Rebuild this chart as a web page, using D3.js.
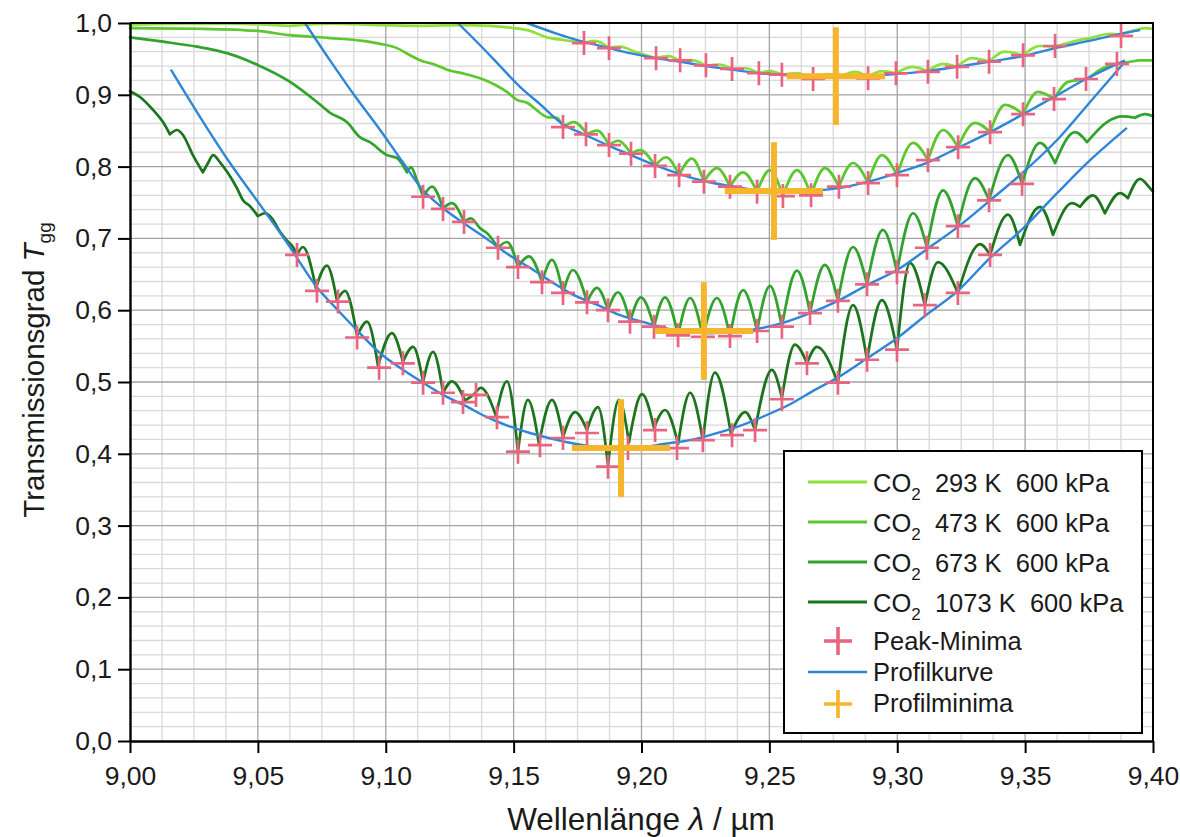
<!DOCTYPE html>
<html>
<head>
<meta charset="utf-8">
<script src="https://cdn.jsdelivr.net/npm/d3@7"></script>
<style>
  body { margin: 0; background: #fff; }
  svg { display: block; }
  text { font-family: "Liberation Sans", Arial, sans-serif; fill: #1a1a1a; }
</style>
</head>
<body>
<svg id="chart" width="1180" height="837"></svg>
<script>
// ---- axis ticks ----------------------------------------------------------
const xMajorTicks = [9.00, 9.05, 9.10, 9.15, 9.20, 9.25, 9.30, 9.35, 9.40];
const yMajorTicks = [0.0, 0.1, 0.2, 0.3, 0.4, 0.5, 0.6, 0.7, 0.8, 0.9, 1.0];
const xMinorStep = 0.0125;
const yMinorStep = 0.02;

// ---- measured transmission spectra  [wavelength (µm), T_gg] --------------
const co2_293 = [
  [9.0000,.997],[9.0196,.999],[9.0391,.999],[9.0626,.996],[9.0782,.999],[9.0978,.997],
  [9.1134,.996],[9.1290,.997],[9.1408,.996],[9.1498,.993],[9.1564,.989],[9.1630,.980],
  [9.1701,.976],[9.1775,.972],[9.1818,.975],[9.1873,.965],[9.1916,.967],[9.1975,.960],
  [9.2057,.951],[9.2104,.954],[9.2151,.947],[9.2201,.948],[9.2252,.940],[9.2303,.942],
  [9.2354,.936],[9.2405,.937],[9.2459,.930],[9.2502,.933],[9.2549,.928],[9.2608,.930],
  [9.2671,.923],[9.2729,.929],[9.2776,.925],[9.2835,.932],[9.2886,.925],[9.2940,.933],
  [9.2995,.930],[9.3058,.939],[9.3120,.933],[9.3179,.943],[9.3234,.939],[9.3292,.951],
  [9.3359,.946],[9.3421,.960],[9.3492,.955],[9.3558,.968],[9.3617,.967],[9.3695,.975],
  [9.3754,.979],[9.3832,.985],[9.3875,.984],[9.3930,.990],[9.3969,.993],[9.4000,.992]
];
const co2_473 = [
  [9.0000,.993],[9.0274,.992],[9.0497,.989],[9.0626,.983],[9.0782,.979],[9.0911,.975],
  [9.0978,.971],[9.1044,.965],[9.1095,.955],[9.1134,.948],[9.1193,.942],[9.1239,.935],
  [9.1310,.929],[9.1369,.923],[9.1427,.914],[9.1474,.904],[9.1513,.893],[9.1552,.889],
  [9.1603,.875],[9.1630,.869],[9.1670,.868],[9.1693,.855],[9.1736,.862],[9.1787,.845],
  [9.1826,.850],[9.1873,.830],[9.1908,.836],[9.1959,.818],[9.1994,.823],[9.2053,.801],
  [9.2096,.813],[9.2147,.788],[9.2197,.811],[9.2244,.779],[9.2295,.798],[9.2346,.772],
  [9.2397,.792],[9.2452,.765],[9.2502,.795],[9.2553,.759],[9.2608,.795],[9.2663,.760],
  [9.2717,.798],[9.2772,.772],[9.2827,.805],[9.2886,.777],[9.2940,.816],[9.2999,.788],
  [9.3062,.833],[9.3120,.809],[9.3179,.851],[9.3237,.827],[9.3304,.861],[9.3363,.848],
  [9.3421,.886],[9.3492,.873],[9.3550,.904],[9.3613,.894],[9.3668,.918],[9.3738,.922],
  [9.3793,.935],[9.3859,.943],[9.3910,.946],[9.3949,.948],[9.4000,.948]
];
const co2_673 = [
  [9.0000,.980],[9.0129,.974],[9.0262,.967],[9.0379,.958],[9.0497,.942],[9.0626,.918],
  [9.0731,.890],[9.0782,.875],[9.0848,.862],[9.0899,.841],[9.0938,.834],[9.1005,.816],
  [9.1044,.812],[9.1083,.792],[9.1099,.799],[9.1122,.781],[9.1146,.758],[9.1181,.772],
  [9.1224,.742],[9.1259,.749],[9.1306,.723],[9.1333,.728],[9.1369,.714],[9.1400,.706],
  [9.1439,.687],[9.1474,.695],[9.1517,.660],[9.1560,.675],[9.1611,.639],[9.1650,.670],
  [9.1693,.624],[9.1732,.656],[9.1787,.611],[9.1826,.631],[9.1869,.600],[9.1908,.625],
  [9.1955,.584],[9.1998,.618],[9.2049,.577],[9.2092,.618],[9.2143,.565],[9.2190,.617],
  [9.2240,.563],[9.2295,.617],[9.2346,.564],[9.2397,.628],[9.2452,.571],[9.2502,.634],
  [9.2549,.577],[9.2608,.655],[9.2659,.596],[9.2717,.663],[9.2768,.613],[9.2827,.688],
  [9.2882,.636],[9.2944,.712],[9.2999,.653],[9.3062,.735],[9.3116,.687],[9.3179,.767],
  [9.3237,.717],[9.3304,.784],[9.3359,.753],[9.3433,.816],[9.3488,.776],[9.3558,.833],
  [9.3617,.805],[9.3695,.848],[9.3742,.834],[9.3820,.862],[9.3879,.870],[9.3930,.868],
  [9.3969,.873],[9.4000,.870]
];
const co2_1073 = [
  [9.0000,.905],[9.0039,.897],[9.0090,.879],[9.0129,.862],[9.0156,.845],[9.0184,.851],
  [9.0207,.844],[9.0246,.816],[9.0285,.792],[9.0305,.805],[9.0325,.816],[9.0352,.806],
  [9.0383,.791],[9.0418,.770],[9.0442,.753],[9.0469,.745],[9.0500,.731],[9.0528,.735],
  [9.0555,.728],[9.0587,.709],[9.0614,.697],[9.0637,.688],[9.0653,.677],[9.0676,.688],
  [9.0727,.631],[9.0770,.662],[9.0809,.614],[9.0841,.627],[9.0888,.564],[9.0927,.584],
  [9.0970,.522],[9.1024,.568],[9.1067,.528],[9.1107,.549],[9.1146,.500],[9.1185,.542],
  [9.1224,.485],[9.1259,.501],[9.1310,.474],[9.1345,.483],[9.1372,.492],[9.1431,.453],
  [9.1474,.501],[9.1517,.403],[9.1556,.475],[9.1599,.414],[9.1650,.475],[9.1693,.423],
  [9.1740,.458],[9.1787,.433],[9.1830,.465],[9.1869,.384],[9.1912,.475],[9.1951,.416],
  [9.2002,.483],[9.2049,.436],[9.2092,.461],[9.2143,.414],[9.2190,.485],[9.2240,.419],
  [9.2287,.513],[9.2350,.428],[9.2405,.458],[9.2444,.433],[9.2510,.517],[9.2549,.478],
  [9.2600,.552],[9.2647,.526],[9.2686,.549],[9.2768,.499],[9.2827,.607],[9.2882,.531],
  [9.2940,.614],[9.2999,.545],[9.3050,.666],[9.3108,.607],[9.3159,.667],[9.3237,.624],
  [9.3324,.692],[9.3363,.677],[9.3433,.733],[9.3480,.691],[9.3558,.744],[9.3609,.705],
  [9.3683,.749],[9.3715,.744],[9.3765,.760],[9.3812,.735],[9.3871,.763],[9.3902,.756],
  [9.3949,.783],[9.3988,.770],[9.4000,.765]
];

// ---- minima of the individual absorption lines -------------------------
const peakMin_293 = [
  [9.1775,.972],[9.1873,.965],[9.2057,.951],[9.2151,.948],[9.2252,.941],[9.2354,.936],
  [9.2459,.930],[9.2549,.928],[9.2671,.922],[9.2886,.923],[9.2995,.930],[9.3120,.932],
  [9.3234,.939],[9.3359,.946],[9.3492,.955],[9.3617,.968],[9.3875,.982]
];
const peakMin_473 = [
  [9.1693,.855],[9.1783,.845],[9.1873,.830],[9.1959,.818],[9.2053,.801],[9.2147,.788],
  [9.2244,.779],[9.2346,.772],[9.2452,.765],[9.2553,.759],[9.2663,.760],[9.2772,.772],
  [9.2886,.777],[9.2999,.788],[9.3120,.809],[9.3238,.827],[9.3363,.848],[9.3492,.873],
  [9.3613,.894],[9.3738,.922],[9.3859,.943]
];
const peakMin_673 = [
  [9.1146,.758],[9.1224,.741],[9.1306,.723],[9.1439,.687],[9.1517,.660],[9.1611,.639],
  [9.1693,.624],[9.1787,.611],[9.1869,.600],[9.1955,.584],[9.2049,.577],[9.2143,.565],
  [9.2240,.563],[9.2346,.564],[9.2452,.571],[9.2549,.577],[9.2659,.596],[9.2768,.613],
  [9.2882,.636],[9.2999,.653],[9.3116,.687],[9.3237,.717],[9.3359,.753],[9.3488,.776]
];
const peakMin_1073 = [
  [9.0653,.677],[9.0731,.627],[9.0813,.612],[9.0888,.562],[9.0974,.520],[9.1067,.526],
  [9.1146,.499],[9.1224,.485],[9.1302,.472],[9.1353,.482],[9.1435,.451],[9.1517,.403],
  [9.1603,.412],[9.1693,.422],[9.1787,.429],[9.1869,.382],[9.1947,.408],[9.2053,.433],
  [9.2139,.408],[9.2240,.419],[9.2354,.426],[9.2444,.433],[9.2549,.476],[9.2647,.526],
  [9.2768,.499],[9.2882,.531],[9.2999,.545],[9.3108,.607],[9.3237,.624],[9.3363,.677]
];

// ---- fitted profile curves ----------------------------------------------
const profile_293 = [
  [9.1552,1.000],[9.1662,.986],[9.1771,.974],[9.1873,.965],[9.1955,.958],[9.2057,.951],
  [9.2151,.946],[9.2252,.940],[9.2354,.935],[9.2459,.930],[9.2549,.928],[9.2671,.925],
  [9.2760,.925],[9.2886,.926],[9.2995,.929],[9.3120,.933],[9.3234,.939],[9.3359,.946],
  [9.3492,.954],[9.3617,.965],[9.3750,.975],[9.3875,.985],[9.3949,.990]
];
const profile_473 = [
  [9.1282,1.000],[9.1369,.969],[9.1447,.940],[9.1525,.911],[9.1603,.887],[9.1693,.859],
  [9.1787,.843],[9.1873,.829],[9.1959,.816],[9.2053,.802],[9.2147,.790],[9.2244,.780],
  [9.2346,.773],[9.2452,.767],[9.2553,.765],[9.2663,.766],[9.2772,.770],[9.2886,.779],
  [9.2999,.791],[9.3120,.806],[9.3237,.826],[9.3363,.848],[9.3492,.873],[9.3613,.897],
  [9.3738,.922],[9.3890,.948]
];
const profile_673 = [
  [9.0684,1.000],[9.0782,.948],[9.0880,.898],[9.0978,.851],[9.1067,.806],[9.1146,.767],
  [9.1224,.742],[9.1310,.720],[9.1396,.699],[9.1478,.678],[9.1564,.659],[9.1650,.639],
  [9.1736,.621],[9.1830,.607],[9.1916,.593],[9.2002,.584],[9.2092,.575],[9.2190,.570],
  [9.2268,.568],[9.2366,.570],[9.2452,.574],[9.2549,.582],[9.2659,.596],[9.2768,.613],
  [9.2882,.635],[9.2999,.656],[9.3116,.685],[9.3237,.716],[9.3363,.753],[9.3492,.792],
  [9.3625,.837],[9.3754,.890],[9.3890,.946]
];
const profile_1073 = [
  [9.0160,.935],[9.0274,.869],[9.0391,.805],[9.0508,.747],[9.0614,.694],[9.0731,.632],
  [9.0813,.600],[9.0888,.572],[9.0978,.540],[9.1067,.517],[9.1146,.499],[9.1224,.482],
  [9.1310,.467],[9.1396,.451],[9.1478,.439],[9.1564,.429],[9.1650,.421],[9.1740,.414],
  [9.1830,.409],[9.1916,.408],[9.2002,.409],[9.2092,.414],[9.2190,.419],[9.2287,.428],
  [9.2385,.439],[9.2483,.453],[9.2581,.469],[9.2678,.489],[9.2776,.508],[9.2882,.533],
  [9.2999,.561],[9.3108,.592],[9.3237,.627],[9.3363,.673],[9.3492,.714],[9.3625,.763],
  [9.3754,.809],[9.3898,.854]
];

// ---- minima of the profile curves with their uncertainty ----------------
const profMinLambda = [9.2760, 9.2518, 9.2244, 9.1920];
const profMinT      = [0.926, 0.766, 0.571, 0.408];
const profMinErrLambda = [0.0192, 0.0192, 0.0192, 0.0192];
const profMinErrT      = [0.068, 0.068, 0.068, 0.068];

// ---- legend ----------------------------------------------------------------
const seriesTemps = ["293 K", "473 K", "673 K", "1073 K"];
const seriesPressure = "600 kPa";
const seriesColors = ["#8ee03a", "#5cc72e", "#31a32c", "#1c751c"];
const profileColor = "#2f86d8";
const peakColor = "#e9647f";
const profMinColor = "#f7b52c";

// --------------------------------------------------------------------------
const svg = d3.select("#chart");
const x = d3.scaleLinear().domain([9.0, 9.4]).range([130, 1153]);
const y = d3.scaleLinear().domain([0, 1]).range([741, 23]);
const decimalComma = (d, n) => d.toFixed(n).replace(".", ",");

// grid: minor lines first, major lines on top
const xMinor = d3.range(0, 33).map(i => 9 + i * xMinorStep).filter((d, i) => i % 4 !== 0);
const yMinor = d3.range(0, 51).map(i => i * yMinorStep).filter((d, i) => i % 5 !== 0);
const grid = svg.append("g");
grid.selectAll(".gxm").data(xMinor).join("line")
  .attr("x1", d => x(d)).attr("x2", d => x(d)).attr("y1", y(0)).attr("y2", y(1))
  .attr("stroke", "#d9d9d9").attr("stroke-width", 1.3);
grid.selectAll(".gym").data(yMinor).join("line")
  .attr("y1", d => y(d)).attr("y2", d => y(d)).attr("x1", x(9.0)).attr("x2", x(9.4))
  .attr("stroke", "#d9d9d9").attr("stroke-width", 1.3);
grid.selectAll(".gxM").data(xMajorTicks.slice(1, -1)).join("line")
  .attr("x1", d => x(d)).attr("x2", d => x(d)).attr("y1", y(0)).attr("y2", y(1))
  .attr("stroke", "#a3a3a3").attr("stroke-width", 1.3);
grid.selectAll(".gyM").data(yMajorTicks.slice(1, -1)).join("line")
  .attr("y1", d => y(d)).attr("y2", d => y(d)).attr("x1", x(9.0)).attr("x2", x(9.4))
  .attr("stroke", "#a3a3a3").attr("stroke-width", 1.3);

// spectra: split at every local minimum so the line troughs stay sharp
const monotone = d3.line().x(d => x(d[0])).y(d => y(d[1])).curve(d3.curveMonotoneX);
function spectrumPath(pts) {
  const pieces = [];
  let cur = [pts[0]];
  for (let i = 1; i < pts.length; i++) {
    cur.push(pts[i]);
    if (i < pts.length - 1 && pts[i][1] < pts[i - 1][1] && pts[i][1] < pts[i + 1][1]) {
      pieces.push(cur);
      cur = [pts[i]];
    }
  }
  pieces.push(cur);
  return pieces.map(p => monotone(p)).join("");
}

const plot = svg.append("g");
const spectra = [co2_293, co2_473, co2_673, co2_1073];
spectra.forEach((s, i) => {
  plot.append("path").attr("d", spectrumPath(s))
    .attr("fill", "none").attr("stroke", seriesColors[i])
    .attr("stroke-width", 2.7).attr("stroke-linejoin", "round").attr("stroke-linecap", "round");
});

// profile curves
const smooth = d3.line().x(d => x(d[0])).y(d => y(d[1])).curve(d3.curveCatmullRom.alpha(0.5));
[profile_293, profile_473, profile_673, profile_1073].forEach(p => {
  plot.append("path").attr("d", smooth(p))
    .attr("fill", "none").attr("stroke", profileColor).attr("stroke-width", 2.4);
});

// line minima as plus markers
const plus = r => `M${-r},0H${r}M0,${-r}V${r}`;
[peakMin_293, peakMin_473, peakMin_673, peakMin_1073].forEach(m => {
  plot.selectAll(null).data(m).join("path")
    .attr("transform", d => `translate(${x(d[0])},${y(d[1])})`)
    .attr("d", plus(12)).attr("stroke", peakColor).attr("stroke-width", 2.7).attr("fill", "none");
});

// profile minima with error bars
profMinLambda.forEach((l, i) => {
  const t = profMinT[i];
  plot.append("line")
    .attr("x1", x(l - profMinErrLambda[i])).attr("x2", x(l + profMinErrLambda[i]))
    .attr("y1", y(t)).attr("y2", y(t))
    .attr("stroke", profMinColor).attr("stroke-width", 6);
  plot.append("line")
    .attr("x1", x(l)).attr("x2", x(l))
    .attr("y1", y(t - profMinErrT[i])).attr("y2", y(t + profMinErrT[i]))
    .attr("stroke", profMinColor).attr("stroke-width", 6);
});

// frame
svg.append("path")
  .attr("d", `M${x(9.0)},${y(1)}H${x(9.4)}V${y(0)}`)
  .attr("fill", "none").attr("stroke", "#000").attr("stroke-width", 2);

// axes
const xAxis = svg.append("g").attr("transform", `translate(0,${y(0)})`);
xAxis.call(d3.axisBottom(x).tickValues(xMinor).tickSize(7).tickFormat(""));
xAxis.call(d3.axisBottom(x).tickValues(xMajorTicks).tickSize(12).tickSizeOuter(0)
  .tickPadding(13).tickFormat(d => decimalComma(d, 2)));
const yAxis = svg.append("g").attr("transform", `translate(${x(9.0)},0)`);
yAxis.call(d3.axisLeft(y).tickValues(yMinor).tickSize(7).tickFormat(""));
yAxis.call(d3.axisLeft(y).tickValues(yMajorTicks).tickSize(12).tickSizeOuter(0)
  .tickPadding(6).tickFormat(d => decimalComma(d, 1)));
svg.selectAll(".domain").attr("stroke", "#000").attr("stroke-width", 2.4);
svg.selectAll(".tick line").attr("stroke", "#000").attr("stroke-width", 2);
svg.selectAll(".tick text").attr("font-size", 26.5).attr("fill", "#1a1a1a")
  .attr("font-family", '"Liberation Sans", Arial, sans-serif');

// axis titles
const xt = svg.append("text").attr("x", 641).attr("y", 830)
  .attr("text-anchor", "middle").attr("font-size", 31.5);
xt.append("tspan").text("Wellenlänge ");
xt.append("tspan").attr("font-style", "italic").text("λ");
xt.append("tspan").text(" / µm");

const yt = svg.append("text").attr("transform", "translate(44,370) rotate(-90)")
  .attr("text-anchor", "middle").attr("font-size", 29.5);
yt.append("tspan").text("Transmissionsgrad ");
yt.append("tspan").attr("font-style", "italic").text("T");
yt.append("tspan").attr("font-size", 19).attr("dy", 7).text("gg");

// legend
const lg = svg.append("g");
lg.append("rect").attr("x", 784).attr("y", 451).attr("width", 358).attr("height", 282)
  .attr("fill", "#fff").attr("stroke", "#000").attr("stroke-width", 2);
const rowY = [482, 522, 562, 602];
seriesTemps.forEach((t, i) => {
  lg.append("line").attr("x1", 808).attr("x2", 867).attr("y1", rowY[i]).attr("y2", rowY[i])
    .attr("stroke", seriesColors[i]).attr("stroke-width", 2.8);
  const tx = lg.append("text").attr("x", 873).attr("y", rowY[i] + 10)
    .attr("font-size", 25.5).style("white-space", "pre");
  tx.append("tspan").text("CO");
  tx.append("tspan").attr("font-size", 17).attr("dy", 8).text("2");
  tx.append("tspan").attr("dy", -8).text(`  ${t}  ${seriesPressure}`);
});
lg.append("path").attr("transform", "translate(838,641)").attr("d", plus(14))
  .attr("stroke", peakColor).attr("stroke-width", 3.6);
lg.append("text").attr("x", 873).attr("y", 650).attr("font-size", 25.5).text("Peak-Minima");
lg.append("line").attr("x1", 808).attr("x2", 867).attr("y1", 672).attr("y2", 672)
  .attr("stroke", profileColor).attr("stroke-width", 2.6);
lg.append("text").attr("x", 873).attr("y", 681).attr("font-size", 25.5).text("Profilkurve");
lg.append("path").attr("transform", "translate(838,704)").attr("d", plus(14))
  .attr("stroke", profMinColor).attr("stroke-width", 3.6);
lg.append("text").attr("x", 873).attr("y", 712).attr("font-size", 25.5).text("Profilminima");
</script>
</body>
</html>
